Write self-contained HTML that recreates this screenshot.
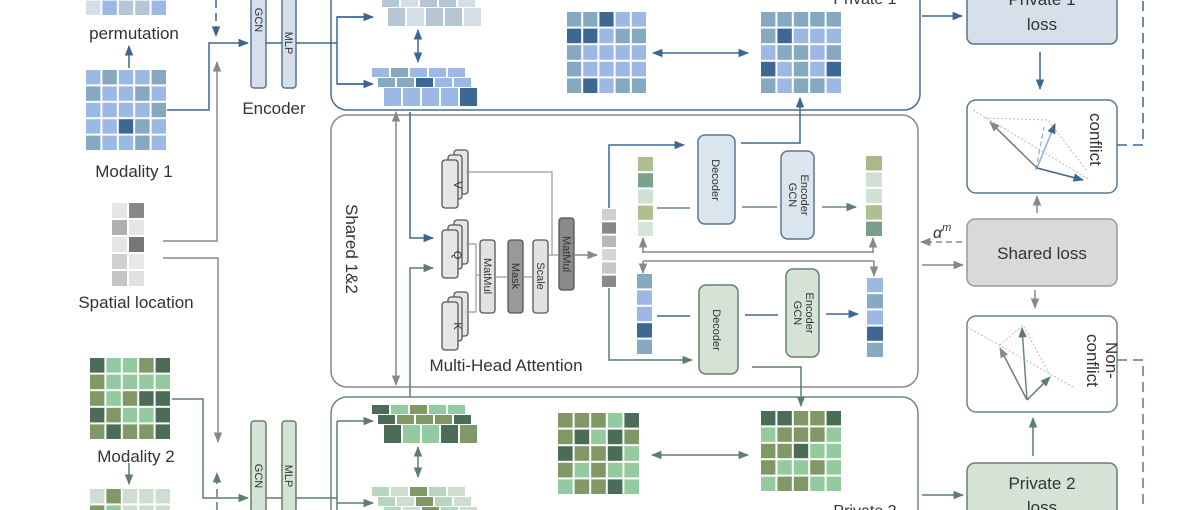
<!DOCTYPE html>
<html><head><meta charset="utf-8"><style>
html,body{margin:0;padding:0;background:#fff;width:1200px;height:510px;overflow:hidden}
svg{display:block;overflow:hidden}
text{font-family:"Liberation Sans","DejaVu Sans",sans-serif;fill:#333}
</style></head><body>
<svg id="s" width="1200" height="510" viewBox="0 0 1200 510" xmlns="http://www.w3.org/2000/svg">
<defs>
<marker id="ab" viewBox="0 0 10 10" refX="9" refY="5" markerWidth="7" markerHeight="7" orient="auto-start-reverse"><path d="M0,1 L10,5 L0,9 z" fill="#3f6690"/></marker>
<marker id="ag" viewBox="0 0 10 10" refX="9" refY="5" markerWidth="7" markerHeight="7" orient="auto-start-reverse"><path d="M0,1 L10,5 L0,9 z" fill="#888"/></marker>
<marker id="an" viewBox="0 0 10 10" refX="9" refY="5" markerWidth="7" markerHeight="7" orient="auto-start-reverse"><path d="M0,1 L10,5 L0,9 z" fill="#5c7e6a"/></marker>
</defs>
<g fill="none" stroke-width="1.5">
<rect x="331" y="-20" width="589" height="130" rx="16" stroke="#4a6d8f"/>
<rect x="331" y="115" width="587" height="272" rx="16" stroke="#888"/>
<rect x="331" y="397" width="587" height="140" rx="16" stroke="#6b8a73"/>
<rect x="251" y="-10" width="15" height="98" rx="3" fill="#d6e0ea" stroke="#5b7690"/>
<rect x="282" y="-10" width="14" height="98" rx="3" fill="#d6e0ea" stroke="#5b7690"/>
<rect x="251" y="421" width="15" height="100" rx="3" fill="#d4e3d6" stroke="#66806d"/>
<rect x="282" y="421" width="14" height="100" rx="3" fill="#d4e3d6" stroke="#66806d"/>
<path d="M129,68 V46" stroke="#3f6690" marker-end="url(#ab)"/>
<path d="M167,110 H209 V43 H248" stroke="#3f6690" marker-end="url(#ab)"/>
<path d="M216,0 V36" stroke="#3f6690" stroke-dasharray="8,5" marker-end="url(#ab)"/>
<path d="M266,43 H282 M296,43 H337 V17 H372 M337,43 V84 H372" stroke="#3f6690"/>
<path d="M337,17 H373" stroke="#3f6690" marker-end="url(#ab)"/>
<path d="M337,84 H373" stroke="#3f6690" marker-end="url(#ab)"/>
<path d="M418,30 V62" stroke="#3f6690" marker-start="url(#ab)" marker-end="url(#ab)"/>
<path d="M653,53 H748" stroke="#3f6690" marker-start="url(#ab)" marker-end="url(#ab)"/>
<path d="M163,241 H217 V62" stroke="#888" marker-end="url(#ag)"/>
<path d="M163,258 H218 V442" stroke="#888" marker-end="url(#ag)"/>
<path d="M172,399 H203 V498 H248" stroke="#5c7e6a" marker-end="url(#an)"/>
<path d="M217,510 V473" stroke="#5c7e6a" stroke-dasharray="8,5" marker-end="url(#an)"/>
<path d="M129,463 V484" stroke="#5c7e6a" marker-end="url(#an)"/>
<path d="M266,498 H282 M296,498 H337 V421 M337,498 V510" stroke="#5c7e6a"/>
<path d="M337,421 H373" stroke="#5c7e6a" marker-end="url(#an)"/>
<path d="M337,503 H373" stroke="#5c7e6a" marker-end="url(#an)"/>
<path d="M418,447 V477" stroke="#5c7e6a" marker-start="url(#an)" marker-end="url(#an)"/>
<path d="M652,455 H748" stroke="#5c7e6a" marker-start="url(#an)" marker-end="url(#an)"/>
<path d="M396,385 V112" stroke="#888" marker-start="url(#ag)" marker-end="url(#ag)"/>
<path d="M410,112 V238 H433" stroke="#3f6690" marker-end="url(#ab)"/>
<path d="M410,397 V268 H433" stroke="#5c7e6a" marker-end="url(#an)"/>
<g stroke="#555" stroke-width="1.3">
<rect x="454" y="150" width="14" height="44" rx="3" fill="#e6e6e6"/><rect x="448" y="155" width="14" height="44" rx="3" fill="#e6e6e6"/><rect x="442" y="160" width="16" height="48" rx="3" fill="#e6e6e6"/>
<rect x="454" y="220" width="14" height="44" rx="3" fill="#e6e6e6"/><rect x="448" y="225" width="14" height="44" rx="3" fill="#e6e6e6"/><rect x="442" y="230" width="16" height="48" rx="3" fill="#e6e6e6"/>
<rect x="454" y="292" width="14" height="44" rx="3" fill="#e6e6e6"/><rect x="448" y="297" width="14" height="44" rx="3" fill="#e6e6e6"/><rect x="442" y="302" width="16" height="48" rx="3" fill="#e6e6e6"/>
<rect x="480" y="240" width="15" height="73" rx="3" fill="#e2e2e2"/>
<rect x="508" y="240" width="15" height="73" rx="3" fill="#999"/>
<rect x="533" y="240" width="15" height="73" rx="3" fill="#e2e2e2"/>
<rect x="559" y="218" width="15" height="72" rx="3" fill="#8a8a8a"/>
</g>
<path d="M466,172 H552 V255 H559 M466,244 H476 V275 H480 M466,312 H476 V275 M495,277 H508 M523,277 H533 M548,255 H559" stroke="#999" stroke-width="1.2"/>
<path d="M574,255 H597" stroke="#888" marker-end="url(#ag)"/>
<path d="M609,208 V145 H684" stroke="#3f6690" marker-end="url(#ab)"/>
<path d="M741,143 H800 V98" stroke="#3f6690" marker-end="url(#ab)"/>
<path d="M657,208 H690 M742,207 H777 M822,207 H856" stroke="#6a8a74" marker-end="url(#an)"/>
<path d="M643,252 H873" stroke="#888"/>
<path d="M643,253 V238" stroke="#888" marker-end="url(#ag)"/><path d="M873,253 V238" stroke="#888" marker-end="url(#ag)"/>
<path d="M643,261 H874" stroke="#888"/>
<path d="M643,261 V273" stroke="#888" marker-end="url(#ag)"/><path d="M874,261 V276" stroke="#888" marker-end="url(#ag)"/>
<path d="M609,288 V360 H692" stroke="#5c7e6a" marker-end="url(#an)"/>
<path d="M657,316 H690 M745,315 H778 M826,314 H858" stroke="#3f6690" marker-end="url(#ab)"/>
<path d="M752,367 H801 V406" stroke="#5c7e6a" marker-end="url(#an)"/>
<rect x="698" y="135" width="37" height="89" rx="7" fill="#dbe5ee" stroke="#5b7690"/>
<rect x="781" y="151" width="33" height="88" rx="7" fill="#dbe5ee" stroke="#5b7690"/>
<rect x="699" y="285" width="39" height="89" rx="7" fill="#d4e3d6" stroke="#66806d"/>
<rect x="786" y="269" width="33" height="88" rx="7" fill="#d4e3d6" stroke="#66806d"/>
<rect x="967" y="-12" width="150" height="56" rx="7" fill="#d6e0ea" stroke="#5b7690"/>
<rect x="967" y="100" width="150" height="93" rx="9" fill="#fff" stroke="#5b7690"/>
<rect x="967" y="219" width="150" height="67" rx="8" fill="#d9d9d9" stroke="#999"/>
<rect x="967" y="316" width="150" height="96" rx="9" fill="#fff" stroke="#6b8a73"/>
<rect x="967" y="463" width="150" height="70" rx="8" fill="#d4e3d6" stroke="#66806d"/>
<path d="M922,16 H962" stroke="#3f6690" marker-end="url(#ab)"/>
<path d="M1040,52 V89" stroke="#3f6690" marker-end="url(#ab)"/>
<path d="M1117,145 H1143 V0" stroke="#3f6690" stroke-dasharray="10,6"/>
<path d="M1037,213 V196" stroke="#888" marker-end="url(#ag)"/>
<path d="M962,242 H921" stroke="#888" stroke-dasharray="6,4" marker-end="url(#ag)"/>
<path d="M922,265 H963" stroke="#888" marker-end="url(#ag)"/>
<path d="M1035,290 V308" stroke="#888" marker-end="url(#ag)"/>
<path d="M1033,456 V418" stroke="#5c7e6a" marker-end="url(#an)"/>
<path d="M922,495 H963" stroke="#5c7e6a" marker-end="url(#an)"/>
<path d="M1117,360 H1143 V510" stroke="#5c7e6a" stroke-dasharray="10,6"/>
<path d="M973,110 L1090,180 M985,118 L1048,120 L1087,171" stroke="#bbb" stroke-width="1" stroke-dasharray="2,2"/>
<path d="M1036,170 L1044,127" stroke="#8eaed6" stroke-width="1.3" stroke-dasharray="5,3"/>
<path d="M1037,168 L1055,124" stroke="#8eaed6" marker-end="url(#ab)"/>
<path d="M1037,168 L990,122" stroke="#777" marker-end="url(#ag)"/>
<path d="M1037,168 L1083,180" stroke="#3f6690" marker-end="url(#ab)"/>
<path d="M967,327 L1075,388 M1000,345 L1023,325 L1050,375" stroke="#bbb" stroke-width="1" stroke-dasharray="2,2"/>
<path d="M1027,400 L1022,328" stroke="#6a8a74" marker-end="url(#an)"/>
<path d="M1027,400 L1000,348" stroke="#777" marker-end="url(#ag)"/>
<path d="M1027,400 L1050,377" stroke="#5c7e6a" marker-end="url(#an)"/>
</g>
<g id="cells"></g>
<text x="134" y="39" font-size="17" text-anchor="middle">permutation</text>
<text x="134" y="177" font-size="17" text-anchor="middle">Modality 1</text>
<text x="136" y="308" font-size="17" text-anchor="middle">Spatial location</text>
<text x="136" y="462" font-size="17" text-anchor="middle">Modality 2</text>
<text x="274" y="114" font-size="17" text-anchor="middle">Encoder</text>
<text x="506" y="371" font-size="17" text-anchor="middle">Multi-Head Attention</text>
<text x="865" y="4" font-size="16" text-anchor="middle">Private 1</text>
<text x="865" y="516" font-size="16" text-anchor="middle">Private 2</text>
<text font-size="17" transform="translate(346,204) rotate(90)">Shared 1&amp;2</text>
<g font-size="11">
<text transform="translate(255,20) rotate(90)" text-anchor="middle">GCN</text>
<text transform="translate(285,43) rotate(90)" text-anchor="middle">MLP</text>
<text transform="translate(255,476) rotate(90)" text-anchor="middle">GCN</text>
<text transform="translate(285,476) rotate(90)" text-anchor="middle">MLP</text>
<text transform="translate(454,185) rotate(90)" text-anchor="middle">V</text>
<text transform="translate(454,255) rotate(90)" text-anchor="middle">Q</text>
<text transform="translate(454,326) rotate(90)" text-anchor="middle">K</text>
<text transform="translate(484,276) rotate(90)" text-anchor="middle">MatMul</text>
<text transform="translate(512,276) rotate(90)" text-anchor="middle">Mask</text>
<text transform="translate(537,276) rotate(90)" text-anchor="middle">Scale</text>
<text transform="translate(563,254) rotate(90)" text-anchor="middle">MatMul</text>
<text transform="translate(712,180) rotate(90)" text-anchor="middle">Decoder</text>
<text transform="translate(713,330) rotate(90)" text-anchor="middle">Decoder</text>
<text transform="translate(801,195) rotate(90)" text-anchor="middle">Encoder</text>
<text transform="translate(789,195) rotate(90)" text-anchor="middle">GCN</text>
<text transform="translate(806,313) rotate(90)" text-anchor="middle">Encoder</text>
<text transform="translate(794,313) rotate(90)" text-anchor="middle">GCN</text>
</g>
<text x="1042" y="5" font-size="17" text-anchor="middle">Private 1</text>
<text x="1042" y="30" font-size="17" text-anchor="middle">loss</text>
<text x="1042" y="259" font-size="17" text-anchor="middle">Shared loss</text>
<text x="1042" y="489" font-size="17" text-anchor="middle">Private 2</text>
<text x="1042" y="513" font-size="17" text-anchor="middle">loss</text>
<text font-size="17" transform="translate(1090,113) rotate(90)">conflict</text>
<text font-size="17" transform="translate(1106,342) rotate(90)">Non-</text>
<text font-size="17" transform="translate(1087,334) rotate(90)">conflict</text>
<text x="933" y="238" font-size="16" font-style="italic" font-family="Liberation Serif">α<tspan font-size="11" dy="-7">m</tspan></text>
</svg>
<script>
var g=document.getElementById('cells'),NS='http://www.w3.org/2000/svg';
var B=['#3c6894','#9cb8e4','#84a9c0','#b5c7d6','#d5dde6'],G=['#4b6c56','#809866','#93caa0','#b8d6bd','#cfdcd2'];
function r(x,y,w,h,c){var e=document.createElementNS(NS,'rect');e.setAttribute('x',x);e.setAttribute('y',y);e.setAttribute('width',w);e.setAttribute('height',h);e.setAttribute('fill',c);g.appendChild(e);}
var seed=7;function rnd(){seed=(seed*9301+49297)%233280;return seed/233280;}
function pick(p){var v=rnd();if(v<0.15)return p[0];if(v<0.55)return p[1];return p[2];}
function grid(x,y,w,h,p,n,m){n=n||5;m=m||5;var cw=w/n,ch=h/m;for(var i=0;i<m;i++)for(var j=0;j<n;j++)r(x+j*cw+1,y+i*ch+1,cw-2,ch-2,pick(p));}
function col(x,y,w,h,n,p){var ch=h/n;for(var i=0;i<n;i++)r(x,y+i*ch+1,w,ch-2,p[i%p.length]);}
function stack(x,y,p,k){for(var s=0;s<3;s++)for(var j=0;j<5;j++){var c=pick(p);if(k)c=[p[3],p[4],p[1],p[3],p[4]][j];r(x+s*6+j*19,y+s*10,17,s==2?18:9,c);}}
grid(85,-66,82,82,[B[1],B[4],B[3]]);
grid(85,69,82,82,B);grid(566,11,81,83,B);grid(760,11,82,83,B);
grid(89,357,82,83,G);grid(557,412,83,83,G);grid(760,410,82,82,G);
grid(89,488,82,82,[G[2],G[1],G[4]]);
stack(376,-12,[B[2],B[3],B[1],B[3],B[4]],1);stack(372,68,B);
stack(372,405,G);stack(372,487,[G[3],G[1],G[4],G[3],G[4]],1);
var sp=['#e6e6e6','#888','#b0b0b0','#e6e6e6','#e6e6e6','#777','#d0d0d0','#e8e8e8','#c4c4c4','#e0e0e0'];
for(var i=0;i<5;i++){r(112,203+i*17,15,15,sp[i*2]);r(129,203+i*17,15,15,sp[i*2+1]);}
col(602,208,14,80,6,['#d0d0d0','#888','#b8b8b8','#d5d5d5','#c8c8c8','#8a8a8a']);
col(638,156,15,81,5,['#b0bf90','#7aa38a','#cfe0d4','#b0bf90','#d4e6d8']);
col(866,155,16,82,5,['#a9b98a','#d0e2d5','#d0e2d5','#b0bf90','#78a088']);
col(637,273,15,82,5,['#86aabf','#9cb8e4','#9cb8e4','#3c6894','#86aabf']);
col(867,277,16,81,5,['#9cb8e4','#86aabf','#9cb8e4','#3c6894','#86aabf']);
</script>
</body></html>
